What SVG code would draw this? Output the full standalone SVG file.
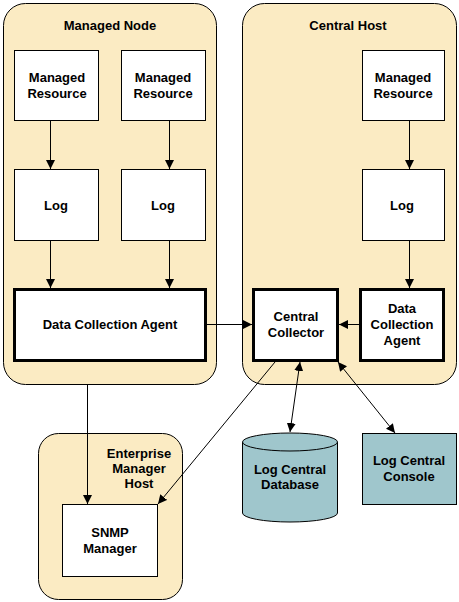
<svg xmlns="http://www.w3.org/2000/svg" width="459" height="602" viewBox="0 0 459 602">
<style>
.cont{fill:#fbebc3;stroke:#000;stroke-width:1}
.box{fill:#fff;stroke:#000;stroke-width:1}
.thick{fill:#fff;stroke:#000;stroke-width:3}
.teal{fill:#9fc6cc;stroke:#000;stroke-width:1}
text{font-family:"Liberation Sans",Arial,sans-serif;font-weight:bold;font-size:13px;text-anchor:middle;fill:#000}
.ln{stroke:#000;stroke-width:1;fill:none}
</style>
<defs>
<marker id="ah" viewBox="0 0 10 10" refX="10" refY="5" markerWidth="9" markerHeight="9" markerUnits="userSpaceOnUse" orient="auto-start-reverse">
<path d="M0,0 L10,5 L0,10 z" fill="#000"/>
</marker>
</defs>
<g id="managed-node">
<rect class="cont" x="3.5" y="3.5" width="213" height="381" rx="22"/>
<text x="110" y="30">Managed Node</text>
</g>
<g id="central-host">
<rect class="cont" x="242.5" y="3.5" width="214" height="381" rx="22"/>
<text x="348" y="30">Central Host</text>
</g>
<g id="em-host">
<rect class="cont" x="38.5" y="433.5" width="144" height="166" rx="20"/>
<text x="139" y="458">Enterprise</text>
<text x="139" y="473">Manager</text>
<text x="139" y="488">Host</text>
</g>
<g id="mr1">
<rect class="box" x="14.5" y="50.5" width="84" height="70"/>
<text x="57" y="82">Managed</text>
<text x="57" y="98">Resource</text>
</g>
<g id="mr2">
<rect class="box" x="121.5" y="50.5" width="84" height="70"/>
<text x="163" y="82">Managed</text>
<text x="163" y="98">Resource</text>
</g>
<g id="mr3">
<rect class="box" x="362.5" y="50.5" width="82" height="70"/>
<text x="403" y="82">Managed</text>
<text x="403" y="98">Resource</text>
</g>
<g id="log1">
<rect class="box" x="14.5" y="169.5" width="84" height="71"/>
<text x="56" y="210">Log</text>
</g>
<g id="log2">
<rect class="box" x="121.5" y="169.5" width="84" height="71"/>
<text x="163" y="210">Log</text>
</g>
<g id="log3">
<rect class="box" x="362.5" y="169.5" width="82" height="71"/>
<text x="402" y="210">Log</text>
</g>
<g id="dca1">
<rect class="thick" x="14.5" y="289.5" width="191" height="71"/>
<text x="110" y="329">Data Collection Agent</text>
</g>
<g id="cc">
<rect class="thick" x="253.5" y="289.5" width="84" height="71"/>
<text x="296" y="321">Central</text>
<text x="296" y="337">Collector</text>
</g>
<g id="dca2">
<rect class="thick" x="360.5" y="289.5" width="83" height="71"/>
<text x="402" y="313">Data</text>
<text x="402" y="329">Collection</text>
<text x="402" y="345">Agent</text>
</g>
<g id="snmp">
<rect class="box" x="62.5" y="504.5" width="95" height="72"/>
<text x="110" y="537">SNMP</text>
<text x="110" y="553">Manager</text>
</g>
<g id="db">
<path class="teal" d="M242.5,442 L242.5,513 A47.5,9 0 0 0 337.5,513 L337.5,442"/>
<ellipse class="teal" cx="290" cy="442" rx="47.5" ry="9"/>
<text x="290" y="474">Log Central</text>
<text x="290" y="489">Database</text>
</g>
<g id="console">
<rect class="teal" x="362.5" y="433.5" width="94" height="71"/>
<text x="409" y="465">Log Central</text>
<text x="409" y="481">Console</text>
</g>
<g id="connectors">
<line class="ln" x1="50.5" y1="121" x2="50.5" y2="169" marker-end="url(#ah)"/>
<line class="ln" x1="169.5" y1="121" x2="169.5" y2="169" marker-end="url(#ah)"/>
<line class="ln" x1="409.5" y1="121" x2="409.5" y2="169" marker-end="url(#ah)"/>
<line class="ln" x1="50.5" y1="241" x2="50.5" y2="288" marker-end="url(#ah)"/>
<line class="ln" x1="169.5" y1="241" x2="169.5" y2="288" marker-end="url(#ah)"/>
<line class="ln" x1="409.5" y1="241" x2="409.5" y2="288" marker-end="url(#ah)"/>
<line class="ln" x1="207" y1="324.5" x2="252" y2="324.5" marker-end="url(#ah)"/>
<line class="ln" x1="359" y1="324.5" x2="339" y2="324.5" marker-end="url(#ah)"/>
<line class="ln" x1="87.5" y1="385" x2="87.5" y2="504" marker-end="url(#ah)"/>
<line class="ln" x1="275" y1="362" x2="158" y2="504" marker-end="url(#ah)"/>
<line class="ln" x1="300" y1="362" x2="290" y2="432" marker-start="url(#ah)" marker-end="url(#ah)"/>
<line class="ln" x1="338" y1="362" x2="395" y2="433" marker-start="url(#ah)" marker-end="url(#ah)"/>
</g>
</svg>
